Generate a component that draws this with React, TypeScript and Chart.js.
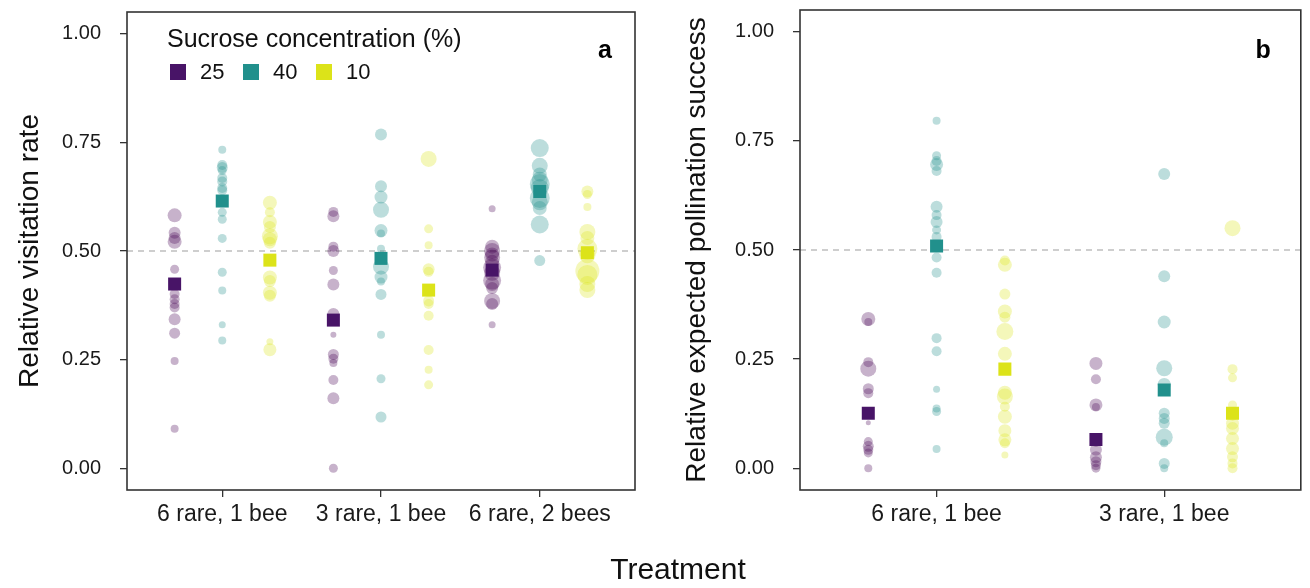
import React, { useEffect, useRef } from "react";
import { Chart, registerables } from "chart.js";

Chart.register(...registerables);

// ---------------- data ----------------
const treatmentsA = ["6 rare, 1 bee", "3 rare, 1 bee", "6 rare, 2 bees"];
const treatmentsB = ["6 rare, 1 bee", "3 rare, 1 bee"];
const concentrationLabels = ["25", "40", "10"];
const yTickValues = [0, 0.25, 0.5, 0.75, 1];
const yTickLabels = ["0.00", "0.25", "0.50", "0.75", "1.00"];
const referenceLevel = 0.5;

// Panel a: relative visitation rate (one inner array per treatment)
const visit25 = [
  [0.582, 0.542, 0.53, 0.521, 0.458, 0.401, 0.389, 0.378, 0.37, 0.343, 0.311, 0.247, 0.091],
  [0.59, 0.58, 0.51, 0.5, 0.455, 0.423, 0.355, 0.307, 0.262, 0.252, 0.242, 0.203, 0.161, 0.0],
  [0.597, 0.51, 0.5, 0.492, 0.485, 0.475, 0.462, 0.45, 0.432, 0.424, 0.415, 0.385, 0.378, 0.33],
];
const visit25Size = [
  [7, 6, 6, 7, 4.5, 5, 5, 5, 5, 6, 5.5, 4, 4],
  [5, 6, 5, 6, 4.5, 6, 6, 3, 5.5, 5, 4, 5, 6, 4.5],
  [3.5, 7, 8, 7, 8, 7, 9, 8, 9, 7, 6, 8, 6, 3.5],
];
const visit40 = [
  [0.733, 0.698, 0.692, 0.685, 0.668, 0.66, 0.645, 0.64, 0.589, 0.573, 0.529, 0.451, 0.409, 0.33, 0.294],
  [0.768, 0.649, 0.624, 0.595, 0.547, 0.54, 0.505, 0.464, 0.44, 0.43, 0.4, 0.307, 0.206, 0.118],
  [0.737, 0.696, 0.676, 0.664, 0.654, 0.645, 0.622, 0.612, 0.599, 0.561, 0.478],
];
const visit40Size = [
  [4, 5, 5.5, 4.5, 5, 5, 5, 5, 4.5, 4.5, 4.5, 4.5, 4, 3.5, 4],
  [6, 6, 6.5, 8, 6.5, 4, 4, 8, 6.5, 4, 5.5, 4, 4.5, 5.5],
  [9, 8, 7, 8, 10, 9, 10, 8, 7, 9, 5.5],
];
const visit10 = [
  [0.611, 0.589, 0.567, 0.555, 0.534, 0.527, 0.519, 0.439, 0.431, 0.404, 0.397, 0.291, 0.273],
  [0.712, 0.551, 0.513, 0.458, 0.452, 0.385, 0.378, 0.351, 0.272, 0.227, 0.192],
  [0.637, 0.63, 0.601, 0.544, 0.53, 0.505, 0.49, 0.454, 0.445, 0.424, 0.41],
];
const visit10Size = [
  [7, 5, 7, 6, 8, 7, 6, 7, 6, 7, 6, 3.5, 6.5],
  [8, 4.5, 4, 6, 5, 5.5, 5, 5, 5, 4, 4.5],
  [6, 4.5, 4, 8, 7, 10, 8, 12, 10, 8, 8],
];
const visitMean25 = [0.424, 0.341, 0.456];
const visitMean40 = [0.615, 0.483, 0.637];
const visitMean10 = [0.479, 0.41, 0.496];

// Panel b: relative expected pollination success
const pollen25 = [
  [0.342, 0.335, 0.243, 0.228, 0.182, 0.172, 0.104, 0.061, 0.05, 0.042, 0.035, 0.0],
  [0.24, 0.204, 0.145, 0.14, 0.06, 0.042, 0.025, 0.015, 0.007, 0.0],
];
const pollen25Size = [
  [7, 4, 5, 8, 5.5, 5, 2.5, 4.5, 5.5, 5, 4.5, 4],
  [6.5, 5, 6.5, 4, 5, 6, 6, 5.5, 5, 4.5],
];
const pollen40 = [
  [0.796, 0.716, 0.704, 0.696, 0.681, 0.599, 0.58, 0.564, 0.546, 0.53, 0.483, 0.448, 0.298, 0.268, 0.181, 0.137, 0.13, 0.044],
  [0.674, 0.44, 0.335, 0.229, 0.192, 0.126, 0.114, 0.103, 0.071, 0.057, 0.011, 0.0],
];
const pollen40Size = [
  [4, 4.5, 5, 6.5, 5, 6, 5, 6, 4.5, 5, 5, 5, 5, 5, 3.5, 4, 4.5, 4],
  [6, 6, 6.5, 8, 6.5, 5.5, 5.5, 5.5, 8.5, 4, 5.5, 4],
];
const pollen10 = [
  [0.476, 0.466, 0.399, 0.359, 0.346, 0.313, 0.262, 0.173, 0.164, 0.141, 0.118, 0.086, 0.065, 0.057, 0.03],
  [0.55, 0.227, 0.207, 0.145, 0.12, 0.103, 0.091, 0.068, 0.045, 0.026, 0.011, 0.0],
];
const pollen10Size = [
  [5, 7, 5.5, 7, 5.5, 8.5, 7, 7, 8, 5, 7, 6.5, 6.5, 5, 3.5],
  [8, 5, 4.5, 4.5, 5, 6.5, 6.5, 6.5, 6.5, 5.5, 5, 5],
];
const pollenMean25 = [0.126, 0.066];
const pollenMean40 = [0.509, 0.179];
const pollenMean10 = [0.227, 0.126];

// ---------------- styles ----------------
const SOLID = ["#481467", "#21908C", "#DCE319"];
const LIGHT = ["rgba(68,1,84,0.3)", "rgba(33,144,140,0.3)", "rgba(220,227,25,0.3)"];
const FONT = "'Liberation Sans', Arial, Helvetica, sans-serif";
const DODGE = 0.3;
const MEAN_RADIUS = 9.2;

function buildDatasets(values: number[][][], sizes: number[][][], means: number[][]) {
  const sets: any[] = [];
  values.forEach((byTreat, c) => {
    const off = (c - 1) * DODGE;
    const data: any[] = [];
    const radii: number[] = [];
    byTreat.forEach((arr, t) => {
      arr.forEach((v, i) => {
        data.push({ x: t + 1 + off, y: v });
        radii.push(sizes[c][t][i]);
      });
    });
    sets.push({
      label: concentrationLabels[c] + " points",
      data,
      pointRadius: radii,
      pointHoverRadius: radii,
      backgroundColor: LIGHT[c],
      borderWidth: 0,
      pointBorderWidth: 0,
      order: 2,
    });
  });
  means.forEach((arr, c) => {
    const off = (c - 1) * DODGE;
    sets.push({
      label: concentrationLabels[c],
      data: arr.map((v, t) => ({ x: t + 1 + off, y: v })),
      pointStyle: "rect",
      pointRadius: MEAN_RADIUS,
      pointHoverRadius: MEAN_RADIUS,
      backgroundColor: SOLID[c],
      borderWidth: 0,
      pointBorderWidth: 0,
      order: 1,
    });
  });
  return sets;
}

function decoPlugin(letter: string, letterInset: number, withLegend: boolean, withXTitle: boolean) {
  return {
    id: "deco" + letter,
    beforeDatasetsDraw(chart: any) {
      const { ctx, chartArea } = chart;
      const y = chart.scales.y.getPixelForValue(referenceLevel);
      ctx.save();
      ctx.strokeStyle = "#BEBEBE";
      ctx.lineWidth = 1.3;
      ctx.setLineDash([6, 5]);
      ctx.beginPath();
      ctx.moveTo(chartArea.left, y);
      ctx.lineTo(chartArea.right, y);
      ctx.stroke();
      ctx.restore();
    },
    afterDraw(chart: any) {
      const { ctx, chartArea } = chart;
      ctx.save();
      ctx.strokeStyle = "#333333";
      ctx.lineWidth = 1.6;
      ctx.strokeRect(chartArea.left, chartArea.top, chartArea.right - chartArea.left, chartArea.bottom - chartArea.top);
      // panel letter
      ctx.fillStyle = "#000";
      ctx.font = `bold 25px ${FONT}`;
      ctx.textAlign = "right";
      ctx.textBaseline = "alphabetic";
      ctx.fillText(letter, chartArea.right - letterInset, 58);
      if (withLegend) {
        ctx.textAlign = "left";
        ctx.font = `25px ${FONT}`;
        ctx.fillStyle = "#111";
        ctx.fillText("Sucrose concentration (%)", chartArea.left + 40, 47);
        ctx.font = `22px ${FONT}`;
        ctx.textBaseline = "middle";
        concentrationLabels.forEach((lab, i) => {
          const x0 = chartArea.left + 43 + i * 73;
          ctx.fillStyle = SOLID[i];
          ctx.fillRect(x0, 64, 16, 16);
          ctx.fillStyle = "#111";
          ctx.fillText(lab, x0 + 30, 73);
        });
      }
      if (withXTitle) {
        ctx.textAlign = "center";
        ctx.textBaseline = "middle";
        ctx.font = `30px ${FONT}`;
        ctx.fillStyle = "#111";
        ctx.fillText("Treatment", 678, 571);
      }
      ctx.restore();
    },
  };
}

function makeConfig(opts: {
  values: number[][][];
  sizes: number[][][];
  means: number[][];
  categories: string[];
  yTitle: string;
  yWidth: number;
  padRight: number;
  titlePad: number;
  letter: string;
  letterInset: number;
  legend: boolean;
  xTitle: boolean;
}): any {
  const n = opts.categories.length;
  return {
    type: "scatter",
    data: { datasets: buildDatasets(opts.values, opts.sizes, opts.means) },
    options: {
      responsive: false,
      animation: false,
      events: [],
      layout: { padding: { left: 0, top: 10, right: opts.padRight, bottom: 0 } },
      plugins: { legend: { display: false }, tooltip: { enabled: false } },
      scales: {
        x: {
          type: "linear",
          min: 0.4,
          max: n + 0.6,
          afterFit: (s: any) => {
            s.height = 98;
            s.paddingLeft = 0;
            s.paddingRight = 0;
            s.paddingTop = 0;
            s.paddingBottom = 0;
          },
          afterBuildTicks: (s: any) => {
            s.ticks = opts.categories.map((_, i) => ({ value: i + 1 }));
          },
          grid: { drawOnChartArea: false, drawTicks: true, tickLength: 7, color: "#333333", lineWidth: 1.3 },
          border: { display: false },
          ticks: {
            callback: (v: any) => opts.categories[Math.round(v) - 1] ?? "",
            font: { family: FONT, size: 23 },
            color: "#1a1a1a",
            padding: 4,
            maxRotation: 0,
            autoSkip: false,
          },
        },
        y: {
          type: "linear",
          min: -0.05,
          max: 1.05,
          afterFit: (s: any) => {
            s.width = opts.yWidth;
            s.paddingTop = 0;
            s.paddingBottom = 0;
            s.paddingLeft = 0;
            s.paddingRight = 0;
          },
          afterBuildTicks: (s: any) => {
            s.ticks = yTickValues.map((v) => ({ value: v }));
          },
          grid: { drawOnChartArea: false, drawTicks: true, tickLength: 7, color: "#333333", lineWidth: 1.3 },
          border: { display: false },
          ticks: {
            callback: (v: any) => {
              const i = yTickValues.findIndex((t) => Math.abs(t - v) < 1e-9);
              return i >= 0 ? yTickLabels[i] : "";
            },
            font: { family: FONT, size: 20 },
            color: "#1a1a1a",
            padding: 19,
            autoSkip: false,
          },
          title: {
            display: true,
            text: opts.yTitle,
            font: { family: FONT, size: 28 },
            color: "#111",
            padding: { top: opts.titlePad, bottom: 0 },
          },
        },
      },
    },
    plugins: [decoPlugin(opts.letter, opts.letterInset, opts.legend, opts.xTitle)],
  };
}

export default function App() {
  const refA = useRef<HTMLCanvasElement>(null);
  const refB = useRef<HTMLCanvasElement>(null);

  useEffect(() => {
    const chartA = new Chart(
      refA.current as HTMLCanvasElement,
      makeConfig({
        values: [visit25, visit40, visit10],
        sizes: [visit25Size, visit40Size, visit10Size],
        means: [visitMean25, visitMean40, visitMean10],
        categories: treatmentsA,
        yTitle: "Relative visitation rate",
        yWidth: 127,
        padRight: 1310 - 635,
        titlePad: 13,
        letter: "a",
        letterInset: 23,
        legend: true,
        xTitle: true,
      })
    );
    const chartB = new Chart(
      refB.current as HTMLCanvasElement,
      makeConfig({
        values: [pollen25, pollen40, pollen10],
        sizes: [pollen25Size, pollen40Size, pollen10Size],
        means: [pollenMean25, pollenMean40, pollenMean10],
        categories: treatmentsB,
        yTitle: "Relative expected pollination success",
        yWidth: 140,
        padRight: 3,
        titlePad: 20,
        letter: "b",
        letterInset: 30,
        legend: false,
        xTitle: false,
      })
    );
    return () => {
      chartA.destroy();
      chartB.destroy();
    };
  }, []);

  return (
    <div style={{ position: "absolute", left: 0, top: 0, width: 1310, height: 588, background: "#fff" }}>
      <canvas ref={refA} width={1310} height={588} style={{ position: "absolute", left: 0, top: 0 }} />
      <canvas ref={refB} width={650} height={588} style={{ position: "absolute", left: 660, top: 0 }} />
    </div>
  );
}
